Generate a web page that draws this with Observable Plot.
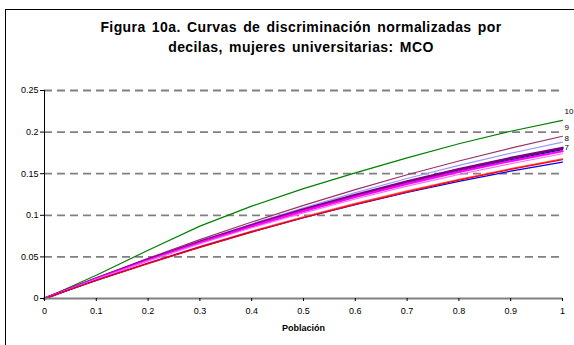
<!DOCTYPE html>
<html>
<head>
<meta charset="utf-8">
<script src="https://cdn.jsdelivr.net/npm/d3@7"></script>
<script src="https://cdn.jsdelivr.net/npm/@observablehq/plot@0.6"></script>
<style>
  html, body { margin: 0; padding: 0; background: #fff; overflow: hidden; }
  body { width: 574px; height: 345px; position: relative; font-family: Arial, "Liberation Sans", sans-serif; }
  #frame { position: absolute; left: 5px; top: 9px; width: 620px; height: 400px; border: 1.5px solid #000; box-sizing: border-box; }
  #title { position: absolute; left: 0; top: 17px; width: 602px; text-align: center; font-weight: bold; font-size: 14px; line-height: 20px; letter-spacing: 0.4px; word-spacing: 2px; color: #000; }
  #chart { position: absolute; left: 0; top: 60px; }
</style>
</head>
<body>
<div id="frame"></div>
<div id="title">Figura 10a. Curvas de discriminación normalizadas por<br>decilas, mujeres universitarias: MCO</div>
<div id="chart"></div>
<script>
// Population share (x) and normalized discrimination per decile
const poblacion = [0, 0.1, 0.2, 0.3, 0.4, 0.5, 0.6, 0.7, 0.8, 0.9, 1];
const decil1  = [0, 0.0216, 0.0420, 0.0614, 0.0798, 0.0970, 0.1132, 0.1282, 0.1422, 0.1552, 0.1670];
const decil2  = [0, 0.0218, 0.0424, 0.0618, 0.0800, 0.0970, 0.1128, 0.1274, 0.1408, 0.1530, 0.1640];
const decil3  = [0, 0.0222, 0.0430, 0.0626, 0.0810, 0.0982, 0.1144, 0.1294, 0.1432, 0.1560, 0.1680];
const decil4  = [0, 0.0232, 0.0452, 0.0658, 0.0850, 0.1030, 0.1196, 0.1350, 0.1490, 0.1620, 0.1740];
const decil5  = [0, 0.0236, 0.0460, 0.0670, 0.0866, 0.1050, 0.1220, 0.1378, 0.1522, 0.1652, 0.1770];
const decil6  = [0, 0.0235, 0.0457, 0.0667, 0.0865, 0.1050, 0.1223, 0.1383, 0.1531, 0.1667, 0.1790];
const decil7  = [0, 0.0240, 0.0468, 0.0682, 0.0882, 0.1070, 0.1244, 0.1406, 0.1554, 0.1688, 0.1810];
const decil8  = [0, 0.0242, 0.0472, 0.0690, 0.0896, 0.1090, 0.1272, 0.1442, 0.1600, 0.1746, 0.1880];
const decil9  = [0, 0.0247, 0.0483, 0.0707, 0.0919, 0.1120, 0.1309, 0.1487, 0.1653, 0.1807, 0.1950];
const decil10 = [0, 0.0280, 0.0580, 0.0870, 0.1110, 0.1320, 0.1510, 0.1690, 0.1860, 0.2010, 0.2140];

const series = ["1", "2", "3", "4", "5", "6", "7", "8", "9", "10"];
const seriesValues = [decil1, decil2, decil3, decil4, decil5, decil6, decil7, decil8, decil9, decil10];
const xTicks = [0, 0.1, 0.2, 0.3, 0.4, 0.5, 0.6, 0.7, 0.8, 0.9, 1];
const yTicks = [0, 0.05, 0.1, 0.15, 0.2, 0.25];
const labelled = ["10", "9", "8", "7"];

// Line styling per decile
const colors = {
  "1": "#ff0000", "2": "#0000ff", "3": "#ff5050", "4": "#ff66ff", "5": "#ff00ff",
  "6": "#000080", "7": "#800080", "8": "#9999ff", "9": "#993366", "10": "#008000"
};
const widths = { "5": 2.2, "7": 2.6 };
const labelDy = { "10": -9, "9": -9, "8": -4, "7": 0 };

const rows = [];
series.forEach((s, i) => {
  poblacion.forEach((x, j) => rows.push({ serie: s, x, y: seriesValues[i][j] }));
});
// draw from top decile down so the lower curves sit on top
const order = [...series].reverse();
const ends = labelled.map(s => ({ serie: s, x: 1, y: seriesValues[series.indexOf(s)][poblacion.length - 1] }));

const chart = Plot.plot({
  width: 574,
  height: 285,
  marginLeft: 44,
  marginRight: 12,
  marginTop: 30,
  marginBottom: 47,
  style: { fontFamily: "Arial, 'Liberation Sans', sans-serif", fontSize: "9px", color: "#000", background: "transparent", overflow: "visible" },
  x: { domain: [0, 1] },
  y: { domain: [0, 0.25] },
  marks: [
    Plot.ruleY(yTicks.filter(d => d > 0), { stroke: "#808080", strokeWidth: 1.8, strokeDasharray: "8,5" }),
    ...order.map(s => Plot.line(rows.filter(r => r.serie === s), {
      x: "x", y: "y", stroke: colors[s], strokeWidth: widths[s] || 1.2
    })),
    Plot.ruleY([0], { stroke: "#808080", strokeWidth: 2 }),
    Plot.ruleX([0], { stroke: "#000", strokeWidth: 1 }),
    Plot.axisY({ ticks: yTicks, tickFormat: d => String(d), tickSize: 4, tickPadding: 2, label: null, fontSize: 9 }),
    Plot.axisX({ ticks: xTicks, tickFormat: d => String(d), tickSize: 3, tickPadding: 6, label: null, fontSize: 9 }),
    Plot.text(["Población"], { frameAnchor: "bottom", dy: 32, fontWeight: "bold", fontSize: 9, letterSpacing: "0.6px" }),
    ...ends.map(e => Plot.text([e], { x: "x", y: "y", text: "serie", dx: 2, dy: labelDy[e.serie], textAnchor: "start", fontSize: 8, fill: "#000" }))
  ]
});
document.getElementById("chart").appendChild(chart);
</script>
</body>
</html>
